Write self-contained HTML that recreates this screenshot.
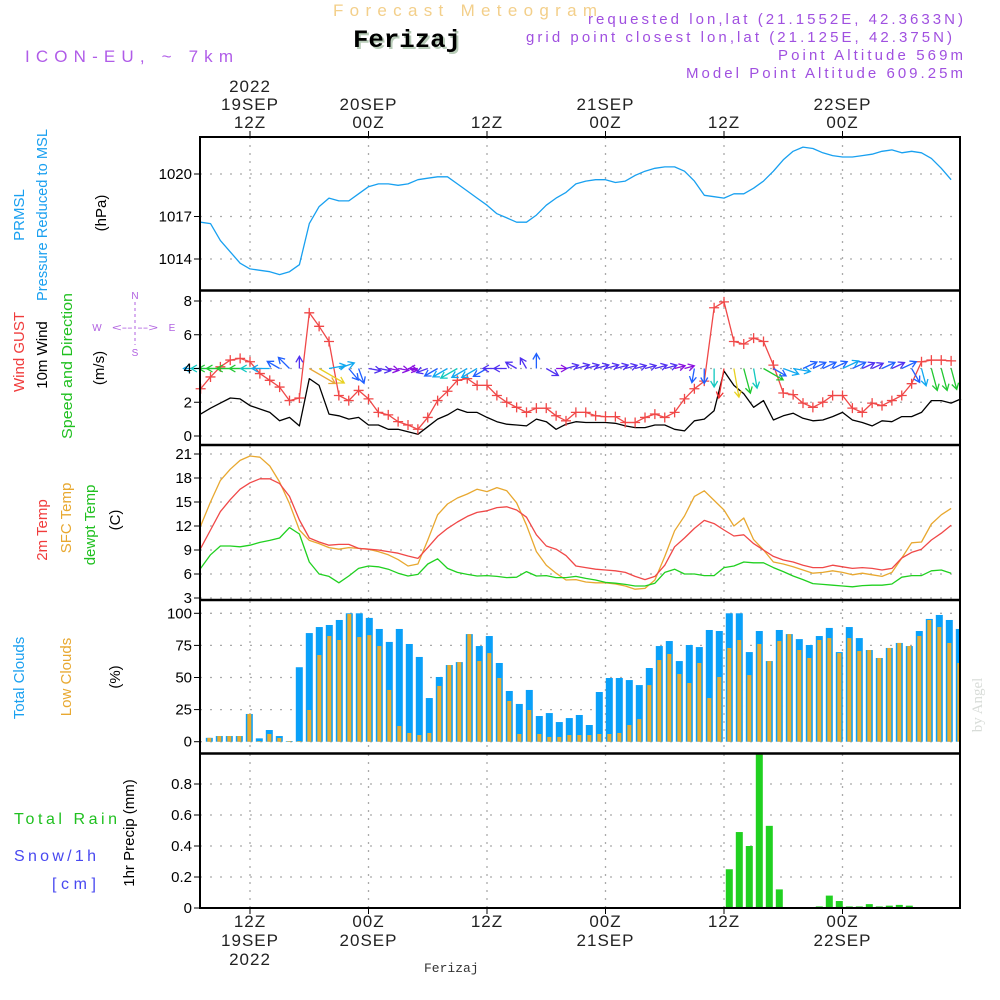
<!DOCTYPE html>
<html><head><meta charset="utf-8"><style>
html,body{margin:0;padding:0;background:#fff;}
svg{display:block;font-family:"Liberation Sans",sans-serif;}
</style></head><body>
<svg id="chart" width="1000" height="1000" viewBox="0 0 1000 1000" xmlns="http://www.w3.org/2000/svg">
<rect x="0" y="0" width="1000" height="1000" fill="#fff"/>
<g>
<text x="333" y="16" textLength="264" lengthAdjust="spacing" font-size="17" fill="#f3cf8a">Forecast Meteogram</text>
<text x="355" y="49" textLength="108" lengthAdjust="spacingAndGlyphs" font-size="25" font-weight="bold" font-family="Liberation Mono,monospace" fill="#b8ccb8">Ferizaj</text>
<text x="353" y="47" textLength="108" lengthAdjust="spacingAndGlyphs" font-size="25" font-weight="bold" font-family="Liberation Mono,monospace" fill="#000">Ferizaj</text>
<text x="25" y="62" textLength="208" lengthAdjust="spacing" font-size="17" fill="#b05ce8">ICON-EU, ~ 7km</text>
<text x="588" y="24" textLength="375" lengthAdjust="spacing" font-size="15" fill="#a050e0">requested lon,lat (21.1552E, 42.3633N)</text>
<text x="526" y="42" textLength="426" lengthAdjust="spacing" font-size="15" fill="#a050e0">grid point closest lon,lat (21.125E, 42.375N)</text>
<text x="778" y="60" textLength="185" lengthAdjust="spacing" font-size="15" fill="#a050e0">Point Altitude 569m</text>
<text x="686" y="78" textLength="277" lengthAdjust="spacing" font-size="15" fill="#a050e0">Model Point Altitude 609.25m</text>
</g>
<g id="grid"></g>
<g id="plot"></g>
<g id="frame"></g>
<g id="labels">
<text transform="translate(24,215) rotate(-90)" text-anchor="middle" font-size="15" fill="#1aa0f0">PRMSL</text>
<text transform="translate(47,215) rotate(-90)" text-anchor="middle" font-size="15" textLength="172" lengthAdjust="spacingAndGlyphs" fill="#1aa0f0">Pressure Reduced to MSL</text>
<text transform="translate(106,213) rotate(-90)" text-anchor="middle" font-size="15" fill="#000">(hPa)</text>
<text transform="translate(24,352) rotate(-90)" text-anchor="middle" font-size="15" fill="#f03c3c">Wind GUST</text>
<text transform="translate(47,355) rotate(-90)" text-anchor="middle" font-size="15" fill="#000">10m Wind</text>
<text transform="translate(72,366) rotate(-90)" text-anchor="middle" font-size="15" textLength="146" lengthAdjust="spacingAndGlyphs" fill="#20c020">Speed and Direction</text>
<text transform="translate(104,368) rotate(-90)" text-anchor="middle" font-size="15" fill="#000">(m/s)</text>
<g fill="#b060e0" font-size="10" stroke="none">
<text x="135" y="299" text-anchor="middle">N</text><text x="135" y="356" text-anchor="middle">S</text>
<text x="97" y="331" text-anchor="middle">W</text><text x="172" y="331" text-anchor="middle">E</text>
<text x="135" y="331" text-anchor="middle" textLength="46" lengthAdjust="spacingAndGlyphs">&lt;-- --&gt;</text>
<line x1="135" y1="302" x2="135" y2="345" stroke="#b060e0" stroke-dasharray="3,3"/>
</g>
<text transform="translate(47,530) rotate(-90)" text-anchor="middle" font-size="15" fill="#f03c3c">2m Temp</text>
<text transform="translate(71,518) rotate(-90)" text-anchor="middle" font-size="15" fill="#e8a830">SFC Temp</text>
<text transform="translate(95,525) rotate(-90)" text-anchor="middle" font-size="15" fill="#20c020">dewpt Temp</text>
<text transform="translate(120,520) rotate(-90)" text-anchor="middle" font-size="15" fill="#000">(C)</text>
<text transform="translate(24,678) rotate(-90)" text-anchor="middle" font-size="15" fill="#1aa0f0">Total Clouds</text>
<text transform="translate(71,677) rotate(-90)" text-anchor="middle" font-size="15" fill="#e8a830">Low Clouds</text>
<text transform="translate(120,677) rotate(-90)" text-anchor="middle" font-size="15" fill="#000">(%)</text>
<text x="14" y="824" textLength="103" lengthAdjust="spacing" font-size="16" fill="#20c020">Total   Rain</text>
<text x="14" y="861" textLength="82" lengthAdjust="spacing" font-size="16" fill="#4848f0">Snow/1h</text>
<text x="52" y="889" textLength="44" lengthAdjust="spacing" font-size="16" fill="#4848f0">[cm]</text>
<text transform="translate(134,833) rotate(-90)" text-anchor="middle" font-size="15" fill="#000">1hr Precip (mm)</text>
<text transform="translate(982,705) rotate(-90)" text-anchor="middle" font-size="15" font-family="Liberation Serif,serif" fill="#d8dcd8">by Angel</text>
<text x="424" y="972" font-size="13" font-family="Liberation Mono,monospace" fill="#333">Ferizaj</text>
</g>
</svg>
<script>
// hours since 19SEP 00Z, hourly from 7 to 83
const startHour = 7;
const pressure = [1016.6,1016.5,1015.3,1014.5,1013.7,1013.3,1013.2,1013.1,1012.9,1013.1,1013.6,1016.5,1017.7,1018.3,1018.1,1018.1,1018.6,1019.1,1019.3,1019.3,1019.2,1019.3,1019.6,1019.7,1019.8,1019.8,1019.3,1018.8,1018.3,1017.8,1017.2,1016.9,1016.6,1016.6,1017.1,1017.8,1018.3,1018.7,1019.3,1019.5,1019.6,1019.6,1019.4,1019.5,1019.9,1020.2,1020.4,1020.5,1020.5,1020.2,1019.5,1018.5,1018.4,1018.3,1018.6,1018.6,1019.0,1019.5,1020.2,1021.0,1021.6,1021.9,1021.8,1021.5,1021.3,1021.2,1021.2,1021.3,1021.4,1021.6,1021.7,1021.5,1021.6,1021.5,1021.1,1020.4,1019.6];
const gust = [2.8,3.5,4.1,4.5,4.6,4.4,3.7,3.3,2.9,2.1,2.25,7.3,6.5,5.6,2.4,2.1,2.7,2.2,1.4,1.25,0.85,0.65,0.4,1.1,2.1,2.65,3.3,3.4,3.0,3.0,2.4,2.0,1.7,1.4,1.65,1.65,1.2,0.9,1.4,1.4,1.2,1.15,1.15,0.8,0.8,1.1,1.3,1.1,1.4,2.2,2.8,3.25,7.6,7.95,5.6,5.45,5.8,5.6,4.2,2.55,2.45,1.95,1.7,2.0,2.4,2.4,1.65,1.4,1.95,1.8,2.1,2.4,3.1,4.4,4.5,4.5,4.45];
const wind = [1.3,1.65,1.95,2.25,2.2,1.8,1.6,1.4,0.9,1.1,0.6,3.4,3.0,1.3,1.2,1.0,1.1,0.65,0.65,0.4,0.4,0.25,0.1,0.55,1.0,1.25,1.6,1.4,1.4,1.1,0.85,0.7,0.65,0.6,1.0,0.85,0.4,0.7,0.85,0.8,0.8,0.8,0.75,0.6,0.5,0.5,0.65,0.65,0.4,0.3,0.9,1.0,1.5,3.85,3.0,2.5,1.7,2.1,0.95,1.2,1.35,1.05,0.9,0.95,1.15,1.4,0.95,0.8,0.6,0.9,0.85,1.15,1.15,1.4,2.1,2.1,1.95,2.2];
// direction the arrow points (compass deg: 0=N,90=E,180=S,270=W)
const windDir = [270,270,270,270,270,270,270,270,300,315,0,120,120,80,70,140,160,100,100,100,100,100,270,250,240,240,240,240,240,240,270,270,300,330,0,120,90,75,75,75,75,75,75,75,75,75,75,75,75,75,190,180,180,190,170,165,170,120,120,110,100,65,65,65,65,65,65,65,65,65,65,65,150,165,165,165,165];
const temp2m = [9.2,11.5,13.8,15.3,16.6,17.4,17.9,17.9,17.3,15.7,12.75,10.5,10.0,9.6,9.7,9.7,9.2,9.1,9.0,8.8,8.6,8.25,7.95,9.3,10.7,11.7,12.5,13.2,13.7,13.9,14.3,14.4,14.0,13.1,10.9,9.5,9.1,8.3,7.0,6.8,6.6,6.5,6.4,6.2,5.7,5.3,5.7,7.1,9.4,10.5,11.7,12.7,12.3,11.5,10.75,10.9,9.8,9.0,8.2,7.75,7.5,7.1,6.8,6.8,7.1,6.9,6.7,6.8,6.7,6.5,6.7,8.0,8.7,9.1,10.25,11.1,12.1];
const tempSfc = [12.0,15.0,17.7,19.1,20.2,20.75,20.6,19.5,17.5,14.8,11.5,10.2,9.8,9.3,9.1,9.3,9.2,9.1,8.8,8.4,7.8,7.0,7.25,10.25,13.4,14.75,15.5,16.0,16.6,16.3,16.8,16.4,14.9,12.1,8.8,7.1,6.1,5.25,5.3,5.0,4.9,4.9,4.75,4.5,4.1,4.2,5.25,8.2,11.4,13.25,15.7,16.4,15.2,14.0,12.0,13.0,10.3,9.0,7.5,7.25,6.9,6.5,6.1,6.2,6.4,6.2,5.9,6.1,5.9,5.7,6.2,8.0,9.9,10.0,12.25,13.4,14.2];
const dewpt = [6.7,8.4,9.5,9.5,9.4,9.6,9.95,10.2,10.5,11.8,11.0,7.5,6.0,5.7,4.9,5.75,6.7,7.0,6.9,6.6,6.1,5.75,5.95,7.25,7.9,6.7,6.2,5.95,5.75,5.8,5.7,5.55,5.6,6.3,5.75,5.8,5.55,5.55,5.7,5.45,5.25,4.95,4.85,4.7,4.5,4.5,4.85,6.2,6.6,6.0,6.0,5.8,5.8,6.8,7.0,7.5,7.4,7.4,6.8,6.3,5.75,5.3,4.8,4.7,4.6,4.5,4.4,4.55,4.6,4.6,4.75,5.6,5.8,5.8,6.4,6.5,6.1];
// cloud bars (10px spaced from x=209.3)
const totalClouds = [3,4.4,4.4,4.4,21.6,2.6,9.1,4.4,0.5,58,84.6,89.3,90.9,94.8,100,100,96.4,87.8,77.7,87.8,76.1,66,34,50.4,59.7,62,83.8,74.5,82.3,61.3,39.5,29.4,40.3,20,22.3,15.3,18.4,20.8,13,38.7,49.6,49.6,48,44.1,57.4,74.5,78.4,62.8,75.3,73.7,87,86.2,100,100,69.8,86.2,62.8,87,83.8,79.9,75.3,82.3,88.6,69.8,89.3,80.7,71.4,65.2,73,76.9,74.5,86.2,95.6,98.7,94.8,87.8];
const lowClouds = [3,4.4,4.4,4.4,21.6,0.5,6,2.9,0.5,0.5,24.7,67.5,82.3,79.2,99.5,81.5,83,74.5,40.3,12.2,6.8,5.2,6.8,43.4,59.7,62,83.8,62.8,69,49.6,31.7,6,24.7,6,3.7,3.7,5.2,5.2,5.2,6,6,6.8,13,17.6,44.1,63.6,68.3,52.7,45.7,61.3,34,50.4,73,79.2,51.9,76.1,62.8,78.4,83.8,71.4,65.2,79.2,80.7,69,80.7,70.6,71.4,65.2,73,76.9,74.5,82.3,94.8,89.3,76.9,61.3];
const precip = [0,0,0,0,0,0,0,0,0,0,0,0,0,0,0,0,0,0,0,0,0,0,0,0,0,0,0,0,0,0,0,0,0,0,0,0,0,0,0,0,0,0,0,0,0,0,0,0,0,0,0,0.005,0.25,0.49,0.40,0.99,0.53,0.12,0,0,0,0.01,0.08,0.045,0.01,0.01,0.025,0.01,0.015,0.02,0.015,0,0,0,0,0];
const pressTicks = [1014,1017,1020];
const windTicks = [0,2,4,6,8];
const tempTicks = [3,6,9,12,15,18,21];
const cloudTicks = [0,25,50,75,100];
const precipTicks = [0,0.2,0.4,0.6,0.8];
const topTimeLabels = [["2022","19SEP","12Z"],["","20SEP","00Z"],["","","12Z"],["","21SEP","00Z"],["","","12Z"],["","22SEP","00Z"]];
const bottomTimeLabels = [["12Z","19SEP","2022"],["00Z","20SEP",""],["12Z","",""],["00Z","21SEP",""],["12Z","",""],["00Z","22SEP",""]];
const gridHours = [12,24,36,48,60,72];

const NS = "http://www.w3.org/2000/svg";
const X0 = 200, X1 = 960;
function xh(h){ return 250 + (h-12)*9.875; }
function xb(i){ return 209.3 + 10*i; }
function lin(d0,d1,r0,r1){ return v => r0 + (v-d0)*(r1-r0)/(d1-d0); }
const yP = lin(1014,1020,259,174);
const yW = lin(0,8,436,301);
const yT = lin(3,21,598,454);
const yC = lin(0,100,741.7,613.3);
const yR = lin(0,0.8,908,784);
const panels = [[137,290,yP,pressTicks,v=>String(v)],[291,445,yW,windTicks,v=>String(v)],[446,600,yT,tempTicks,v=>String(v)],[601,753,yC,cloudTicks,v=>String(v)],[754,908,yR,precipTicks,v=>v===0?"0":v.toFixed(1)]];
function mk(tag, attrs, parent){ const e=document.createElementNS(NS,tag); for(const k in attrs) e.setAttribute(k,attrs[k]); parent.appendChild(e); return e; }
const G = document.getElementById('grid'), P = document.getElementById('plot'), F = document.getElementById('frame');

panels.forEach((p,pi)=>{
  const [t,b,ys,ticks,fmt]=p;
  gridHours.forEach(h=>{
    const l = mk('line',{x1:xh(h),x2:xh(h),y1:t,y2:b,stroke:'#aaa','stroke-width':1.3,'stroke-dasharray':'2,6'},G);
    
    
  });
  ticks.forEach(v=>{
    const y=ys(v);
    const l = mk('line',{x1:X0,x2:X1,y1:y,y2:y,stroke:'#aaa','stroke-width':1.3,'stroke-dasharray':'2,8'},G);
    
    
    const tk = mk('line',{x1:X0-6,x2:X0,y1:y,y2:y,stroke:'#000','stroke-width':1},F);
    
    
    const tx = mk('text',{x:X0-8,y:y+5,'text-anchor':'end','font-size':15,fill:'#000'},F);
    
    
    tx.textContent = fmt(v);
  });
});

function line(data, ys, color, name, w){
  const pts = data.map((v,i)=>xh(startHour+i).toFixed(1)+','+ys(v).toFixed(1)).join(' ');
  const pl = mk('polyline',{points:pts,fill:'none',stroke:color,'stroke-width':w||1.3,'stroke-linejoin':'round'},P);
  
  
}
line(pressure,yP,'#18a0f0','pressure-line');
line(wind,yW,'#000','wind-speed-line');
line(gust,yW,'#f04848','wind-gust-line');
gust.forEach((v,i)=>{
  const x=xh(startHour+i), y=yW(v);
  const m = mk('path',{d:`M${x-5},${y}H${x+5}M${x},${y-5}V${y+5}`,stroke:'#f04848','stroke-width':1.3},P);
  
  
});
function speedColor(s){
  if(s<0.5) return '#8a10e0'; if(s<0.9) return '#5030f0'; if(s<1.2) return '#2060ff';
  if(s<1.45) return '#10a8f0'; if(s<1.8) return '#10c8c0'; if(s<2.6) return '#20c830';
  if(s<2.95) return '#a8e020'; if(s<3.2) return '#e8d020'; if(s<3.6) return '#e8a838'; return '#f03030';
}
wind.forEach((s,i)=>{
  const x=xh(startHour+i), y=yW(4);
  const L=Math.min(30,8+7*s), a=windDir[i]*Math.PI/180;
  const dx=Math.sin(a), dy=-Math.cos(a);
  const hx=x+dx*L, hy=y+dy*L;
  const c=speedColor(s);
  const px=-dy, py=dx;
  const d=`M${x},${y}L${hx},${hy}M${hx-dx*6+px*3.5},${hy-dy*6+py*3.5}L${hx},${hy}L${hx-dx*6-px*3.5},${hy-dy*6-py*3.5}`;
  const ar = mk('path',{d:d,stroke:c,'stroke-width':1.3,fill:'none'},P);
  
  
});
line(tempSfc,yT,'#e8a830','sfc-temp-line');
line(temp2m,yT,'#f04848','temp-2m-line');
line(dewpt,yT,'#20d020','dewpoint-line');
totalClouds.forEach((v,i)=>{
  const x=xb(i); if(x-3.5>=X1) return;
  const w=Math.min(7,X1-(x-3.5));
  const r = mk('rect',{x:x-3.5,y:yC(v),width:w,height:yC(0)-yC(v),fill:'#0aa0f8'},P);
  
  
});
lowClouds.forEach((v,i)=>{
  const x=xb(i); if(x-2>=X1) return;
  const w=Math.min(4,X1-(x-2));
  const r = mk('rect',{x:x-2,y:yC(v),width:w,height:yC(0)-yC(v),fill:'#e8ac30'},P);
  
  
});
precip.forEach((v,i)=>{
  const x=xb(i); if(v<=0) return;
  const top=Math.max(754,yR(v));
  const r = mk('rect',{x:x-3.5,y:top,width:7,height:Math.max(1.5,yR(0)-top),fill:'#20d020'},P);
  
  
});

// frame
const fr = mk('rect',{x:X0,y:137,width:X1-X0,height:771,fill:'none',stroke:'#000','stroke-width':2},F);


[290.5,445,600,753.5].forEach(y=>{
  const d = mk('line',{x1:X0,x2:X1,y1:y,y2:y,stroke:'#000','stroke-width':2.5},F);
  
  
});
gridHours.forEach((h,k)=>{
  const x=xh(h);
  const t1 = mk('line',{x1:x,x2:x,y1:131,y2:137,stroke:'#000'},F);
  
  
  const t2 = mk('line',{x1:x,x2:x,y1:908,y2:914,stroke:'#000'},F);
  
  
  topTimeLabels[k].forEach((s,j)=>{
    if(!s) return;
    const tx = mk('text',{x:x,y:92+j*18,'text-anchor':'middle','font-size':17,'letter-spacing':1,fill:'#222'},F);
    
    
    tx.textContent=s;
  });
  bottomTimeLabels[k].forEach((s,j)=>{
    if(!s) return;
    const tx = mk('text',{x:x,y:927+j*19,'text-anchor':'middle','font-size':17,'letter-spacing':1,fill:'#222'},F);
    
    
    tx.textContent=s;
  });
});
</script>
</body></html>
